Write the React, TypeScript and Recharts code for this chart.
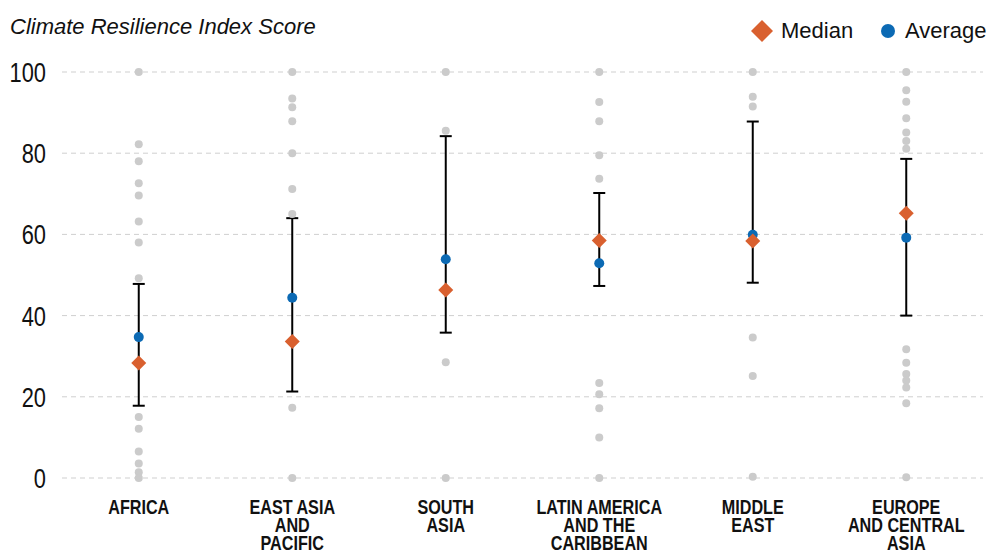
import {
  ScatterChart,
  Scatter,
  XAxis,
  YAxis,
  CartesianGrid,
  ErrorBar,
} from "recharts";

// region labels (line breaks as in the source figure)
const regions = [
  ["AFRICA"],
  ["EAST ASIA", "AND", "PACIFIC"],
  ["SOUTH", "ASIA"],
  ["LATIN AMERICA", "AND THE", "CARIBBEAN"],
  ["MIDDLE", "EAST"],
  ["EUROPE", "AND CENTRAL", "ASIA"],
];

const yTicks = [0, 20, 40, 60, 80, 100];

const medianScores = [28.3, 33.6, 46.3, 58.5, 58.4, 65.2];
const averageScores = [34.7, 44.4, 53.9, 52.9, 59.9, 59.2];
const rangeLow = [17.8, 21.3, 35.8, 47.3, 48.1, 40.0];
const rangeHigh = [47.8, 64.0, 84.2, 70.2, 87.8, 78.6];

// individual country scores per region
const countryScores = [
  [100, 82.2, 78, 72.6, 69.6, 63.2, 58, 49.2, 15, 12.1, 6.5, 3.6, 1.4, 0],
  [100, 93.5, 91.3, 87.9, 80, 71.2, 65, 17.3, 0],
  [100, 85.5, 28.5, 0],
  [100, 92.6, 87.9, 79.5, 73.7, 23.4, 20.6, 17.2, 10, 0],
  [100, 93.9, 91.5, 34.6, 25.1, 0.3],
  [100, 95.5, 92.7, 88.6, 85.1, 83, 81.1, 31.7, 28.4, 25.6, 24, 22.3, 18.4, 0.2],
];

const GRAY = "#cbcbcb";
const BLUE = "#0c6ab4";
const ORANGE = "#d9602f";

const SANS = '"Liberation Sans", Arial, sans-serif';

const countryPoints = countryScores.flatMap((scores, i) =>
  scores.map((v) => ({ x: i, y: v }))
);
const medianPoints = medianScores.map((v, i) => ({ x: i, y: v }));
const averagePoints = averageScores.map((v, i) => ({
  x: i,
  y: v,
  range: [v - rangeLow[i], rangeHigh[i] - v],
}));

const Dot = (r: number, fill: string) => (props: any) =>
  <circle cx={props.cx} cy={props.cy} r={r} fill={fill} />;

const Diamond = (props: any) => {
  const { cx, cy } = props;
  const s = 7.5;
  return (
    <polygon
      points={`${cx},${cy - s} ${cx + s},${cy} ${cx},${cy + s} ${cx - s},${cy}`}
      fill={ORANGE}
    />
  );
};

// condensed look: Liberation Sans squeezed horizontally
const RegionTick = (props: any) => {
  const { x, y, payload } = props;
  const lines = regions[payload.value] || [];
  return (
    <g transform={`translate(${x},${y + 34})`}>
      <text
        transform="scale(0.77,1)"
        textAnchor="middle"
        fontFamily={SANS}
        fontWeight="bold"
        fontSize={21}
        fill="#111"
      >
        {lines.map((l, k) => (
          <tspan key={k} x={0} y={k * 18}>
            {l}
          </tspan>
        ))}
      </text>
    </g>
  );
};

const ScoreTick = (props: any) => {
  const { x, y, payload } = props;
  return (
    <g transform={`translate(${x},${y})`}>
      <text
        transform="scale(0.78,1)"
        textAnchor="end"
        dy="0.36em"
        fontFamily={SANS}
        fontSize={28}
        fill="#111"
      >
        {payload.value}
      </text>
    </g>
  );
};

export default function App() {
  return (
    <div style={{ position: "relative", width: 989, height: 552, background: "#fff" }}>
      <style>{`body{margin:0}`}</style>
      <div
        style={{
          position: "absolute",
          left: 10,
          top: 16,
          fontFamily: SANS,
          fontStyle: "italic",
          fontSize: 22,
          lineHeight: "22px",
          color: "#111",
          whiteSpace: "nowrap",
        }}
      >
        Climate Resilience Index Score
      </div>
      {/* legend */}
      <svg style={{ position: "absolute", left: 740, top: 16 }} width={249} height={30}>
        <polygon points="22,4 33,15 22,26 11,15" fill={ORANGE} />
        <text x={41} y={22} fontFamily={SANS} fontSize={22} fill="#111">
          Median
        </text>
        <circle cx={148} cy={15} r={7} fill={BLUE} />
        <text x={165} y={22} fontFamily={SANS} fontSize={22} fill="#111">
          Average
        </text>
      </svg>
      <ScatterChart
        width={989}
        height={552}
        margin={{ top: 72, right: 6, bottom: 0, left: 0 }}
      >
        <CartesianGrid
          vertical={false}
          stroke="#cfcfcf"
          strokeDasharray="5 4"
          strokeWidth={1}
        />
        <XAxis
          type="number"
          dataKey="x"
          domain={[-0.5, 5.5]}
          ticks={[0, 1, 2, 3, 4, 5]}
          axisLine={false}
          tickLine={false}
          tickSize={0}
          height={74}
          interval={0}
          tick={<RegionTick />}
        />
        <YAxis
          type="number"
          dataKey="y"
          domain={[0, 100]}
          ticks={yTicks}
          axisLine={false}
          tickLine={false}
          tickSize={0}
          tickMargin={16}
          width={62}
          tick={<ScoreTick />}
        />
        <Scatter
          data={countryPoints}
          isAnimationActive={false}
          shape={Dot(4, GRAY)}
        />
        <Scatter
          data={averagePoints}
          isAnimationActive={false}
          shape={Dot(5, BLUE)}
        >
          <ErrorBar
            dataKey="range"
            direction="y"
            width={6}
            stroke="#000"
            strokeWidth={2}
          />
        </Scatter>
        <Scatter data={medianPoints} isAnimationActive={false} shape={Diamond} />
      </ScatterChart>
    </div>
  );
}
